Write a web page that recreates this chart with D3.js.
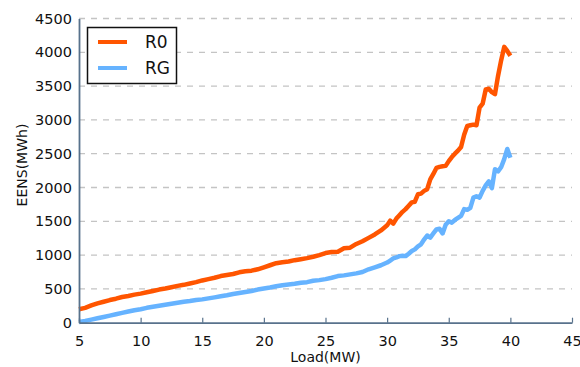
<!DOCTYPE html>
<html>
<head>
<meta charset="utf-8">
<script src="https://cdn.jsdelivr.net/npm/d3@7"></script>
<style>
  body { margin: 0; background: #fff; }
  text { font-family: "DejaVu Sans", sans-serif; fill: #111; }
</style>
</head>
<body>
<div id="chart"></div>
<script>
// load (MW)
const loads = [
  5, 5.5, 6, 6.5, 7, 7.5, 8, 8.5, 9, 9.5,
  10, 10.5, 11, 11.5, 12, 12.5, 13, 13.5, 14, 14.5,
  15, 15.5, 16, 16.5, 17, 17.5, 18, 18.5, 19, 19.5,
  20, 20.5, 21, 21.5, 22, 22.5, 23, 23.5, 24, 24.5,
  25, 25.5, 26, 26.5, 27, 27.5, 28, 28.5, 29, 29.5,
  30, 30.25, 30.5, 30.75, 31, 31.25, 31.5, 31.75, 32, 32.25,
  32.5, 32.75, 33, 33.25, 33.5, 33.75, 34, 34.25, 34.5, 34.75,
  35, 35.25, 35.5, 35.75, 36, 36.25, 36.5, 36.75, 37, 37.25,
  37.5, 37.75, 38, 38.25, 38.5, 38.75, 39, 39.25, 39.5, 39.75, 40
];

const r0 = [
  200, 220, 255, 285, 310, 335, 355, 380, 395, 415,
  430, 450, 470, 490, 505, 525, 545, 560, 580, 600,
  625, 645, 665, 690, 705, 720, 745, 760, 770, 790,
  820, 850, 880, 895, 905, 925, 940, 955, 975, 1000,
  1030, 1045, 1050, 1100, 1110, 1165, 1205, 1255, 1305, 1365,
  1440, 1510, 1465, 1540, 1590, 1640, 1680, 1730, 1780, 1790,
  1900, 1910, 1950, 1975, 2120, 2200, 2290, 2305, 2315, 2320,
  2390, 2450, 2500, 2545, 2600, 2780, 2910, 2920, 2930, 2920,
  3180, 3240, 3450, 3460, 3410, 3380, 3650, 3880, 4080, 4020, 3950
];

const rg = [
  10, 25, 45, 65, 85, 105, 125, 145, 165, 185,
  200, 220, 235, 250, 265, 280, 295, 310, 320, 335,
  345, 360, 375, 390, 405, 425, 440, 455, 470, 490,
  505, 520, 540, 555, 565, 575, 590, 600, 620, 630,
  645, 665, 690, 700, 715, 730, 750, 790, 820, 850,
  890, 920, 950, 965, 985, 990, 985, 1020, 1060, 1085,
  1130, 1160, 1230, 1290, 1260, 1320, 1380, 1390, 1320, 1450,
  1500, 1480, 1520, 1550, 1580, 1680, 1670, 1700, 1850, 1870,
  1850, 1950, 2030, 2090, 1990, 2270, 2240, 2300, 2420, 2570, 2440
];

const seriesNames = ["R0", "RG"];
const seriesColors = ["#ff5500", "#66b3ff"];
const xTicks = [5, 10, 15, 20, 25, 30, 35, 40, 45];
const yTicks = [0, 500, 1000, 1500, 2000, 2500, 3000, 3500, 4000, 4500];

const width = 580, height = 367;
const margin = {top: 18.5, right: 8, bottom: 44.3, left: 79};

const svg = d3.select("#chart").append("svg")
  .attr("width", width)
  .attr("height", height);

const x = d3.scaleLinear().domain([5, 45]).range([margin.left, width - margin.right]);
const y = d3.scaleLinear().domain([0, 4500]).range([height - margin.bottom, margin.top]);

// grid
svg.append("g")
  .selectAll("line")
  .data(yTicks.filter(d => d > 0))
  .enter()
  .append("line")
  .attr("x1", margin.left)
  .attr("x2", width - margin.right)
  .attr("y1", d => y(d))
  .attr("y2", d => y(d))
  .attr("stroke", "#c4c4c4")
  .attr("stroke-width", 1.3)
  .attr("stroke-dasharray", "6,6");

// lines
const series = [r0, rg];
const line = d3.line()
  .x((d, i) => x(loads[i]))
  .y(d => y(d));

svg.append("g")
  .selectAll("path")
  .data(series)
  .enter()
  .append("path")
  .attr("d", line)
  .attr("fill", "none")
  .attr("stroke", (d, i) => seriesColors[i])
  .attr("stroke-width", 4.5)
  .attr("stroke-linejoin", "round");

// axes
const axisColor = "#58728c";

const xAxis = svg.append("g")
  .attr("transform", "translate(0," + y(0) + ")")
  .call(d3.axisBottom(x).tickValues(xTicks).tickFormat(d3.format("d"))
    .tickSizeInner(-5).tickSizeOuter(0).tickPadding(13));
xAxis.select(".domain").attr("stroke", axisColor).attr("stroke-width", 1.8);
xAxis.selectAll(".tick line").attr("stroke", axisColor).attr("stroke-width", 1.2);
xAxis.selectAll("text")
  .style("font-family", "DejaVu Sans")
  .style("font-size", "14.5px")
  .attr("fill", "#111");

const yAxis = svg.append("g")
  .attr("transform", "translate(" + margin.left + ",0)")
  .call(d3.axisLeft(y).tickValues(yTicks).tickFormat(d3.format("d"))
    .tickSizeInner(0).tickSizeOuter(0).tickPadding(7));
yAxis.select(".domain").attr("stroke", axisColor).attr("stroke-width", 1.8);
yAxis.selectAll("text")
  .style("font-family", "DejaVu Sans")
  .style("font-size", "14.5px")
  .attr("fill", "#111");

// axis titles
svg.append("text")
  .attr("x", x(25))
  .attr("y", 362)
  .attr("text-anchor", "middle")
  .style("font-size", "14px")
  .text("Load(MW)");

svg.append("text")
  .attr("transform", "translate(27,165) rotate(-90)")
  .attr("text-anchor", "middle")
  .style("font-size", "14px")
  .text("EENS(MWh)");

// legend
const legend = svg.append("g");
legend.append("rect")
  .attr("x", 87.5)
  .attr("y", 27.5)
  .attr("width", 89)
  .attr("height", 56)
  .attr("fill", "#fff")
  .attr("stroke", "#111")
  .attr("stroke-width", 1.5);

const items = legend.selectAll("g.item")
  .data(seriesNames)
  .enter()
  .append("g")
  .attr("transform", (d, i) => "translate(0," + (42 + i * 26) + ")");

items.append("line")
  .attr("x1", 98)
  .attr("x2", 127)
  .attr("stroke", (d, i) => seriesColors[i])
  .attr("stroke-width", 4);

items.append("text")
  .attr("x", 145)
  .attr("y", 6)
  .style("font-size", "17px")
  .text(d => d);
</script>
</body>
</html>
